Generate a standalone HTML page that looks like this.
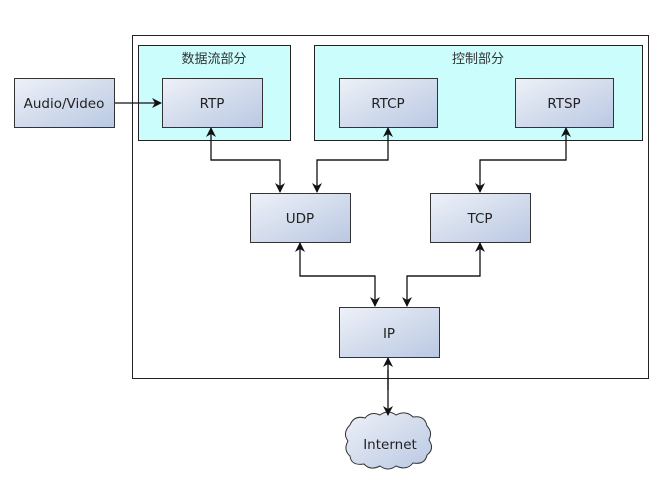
<!DOCTYPE html>
<html><head><meta charset="utf-8"><style>
body{margin:0;background:#fff;width:664px;height:491px;overflow:hidden}
</style></head><body>
<svg width="664" height="491" xmlns="http://www.w3.org/2000/svg" font-family="'DejaVu Sans','Noto Sans CJK SC',sans-serif">
<defs>
<linearGradient id="g" x1="0" y1="0" x2="1" y2="1">
<stop offset="0" stop-color="#eef1f8"/><stop offset="1" stop-color="#b9c8e2"/></linearGradient>
<marker id="a" markerWidth="10" markerHeight="10" refX="9" refY="5" orient="auto" markerUnits="userSpaceOnUse">
<path d="M0,0 L10,5 L0,10 L3,5 z" fill="#111"/></marker>
</defs>
<rect x="132.5" y="35.5" width="516" height="343" fill="#fff" stroke="#222"/>
<rect x="138.5" y="45.5" width="152" height="95" fill="#ccfdfd" stroke="#222"/>
<rect x="314.5" y="45.5" width="328" height="95" fill="#ccfdfd" stroke="#222"/>
<text x="214" y="63" font-size="13" text-anchor="middle" fill="#333" font-family="'Noto Sans CJK SC',sans-serif">数据流部分</text>
<text x="478" y="63" font-size="13" text-anchor="middle" fill="#333" font-family="'Noto Sans CJK SC',sans-serif">控制部分</text>
<g stroke="#333" fill="url(#g)">
<rect x="14.5" y="78.5" width="100" height="49"/>
<rect x="162.5" y="78.5" width="100" height="49"/>
<rect x="339.5" y="78.5" width="98" height="49"/>
<rect x="515.5" y="78.5" width="98" height="49"/>
<rect x="250.5" y="193.5" width="100" height="49"/>
<rect x="430.5" y="193.5" width="100" height="49"/>
<rect x="339.5" y="307.5" width="100" height="50"/>
</g>
<path d="M350,425 q4,-10 15,-7 q6,-7 15,-3 q8,-6 16,0 q10,-5 17,2 q12,-2 14,9 q6,6 2,14 q6,9 -2,15 q-2,10 -14,8 q-6,8 -17,3 q-8,6 -16,0 q-10,5 -16,-2 q-13,2 -14,-8 q-7,-6 -2,-15 q-6,-8 2,-16 z" fill="url(#g)" stroke="#333"/>
<g font-size="13.5" fill="#222" text-anchor="middle">
<text x="64" y="108">Audio/Video</text>
<text x="212" y="108">RTP</text>
<text x="388" y="108">RTCP</text>
<text x="564" y="108">RTSP</text>
<text x="300" y="223">UDP</text>
<text x="480" y="223">TCP</text>
<text x="389" y="338">IP</text>
<text x="390" y="449">Internet</text>
</g>
<g stroke="#111" stroke-width="1.3" fill="none">
<path d="M115,103 H161" marker-end="url(#a)"/>
<path d="M280,160 H211 V128" marker-end="url(#a)"/>
<path d="M211,160 H280 V192" marker-end="url(#a)"/>
<path d="M317,160 H388 V128" marker-end="url(#a)"/>
<path d="M388,160 H317 V192" marker-end="url(#a)"/>
<path d="M480,160 H566 V128" marker-end="url(#a)"/>
<path d="M566,160 H480 V192" marker-end="url(#a)"/>
<path d="M375,276 H300 V243" marker-end="url(#a)"/>
<path d="M300,276 H375 V306" marker-end="url(#a)"/>
<path d="M407,276 H480 V243" marker-end="url(#a)"/>
<path d="M480,276 H407 V306" marker-end="url(#a)"/>
<path d="M388,390 V358" marker-end="url(#a)"/>
<path d="M388,370 V415" marker-end="url(#a)"/>
</g>
</svg>
</body></html>
